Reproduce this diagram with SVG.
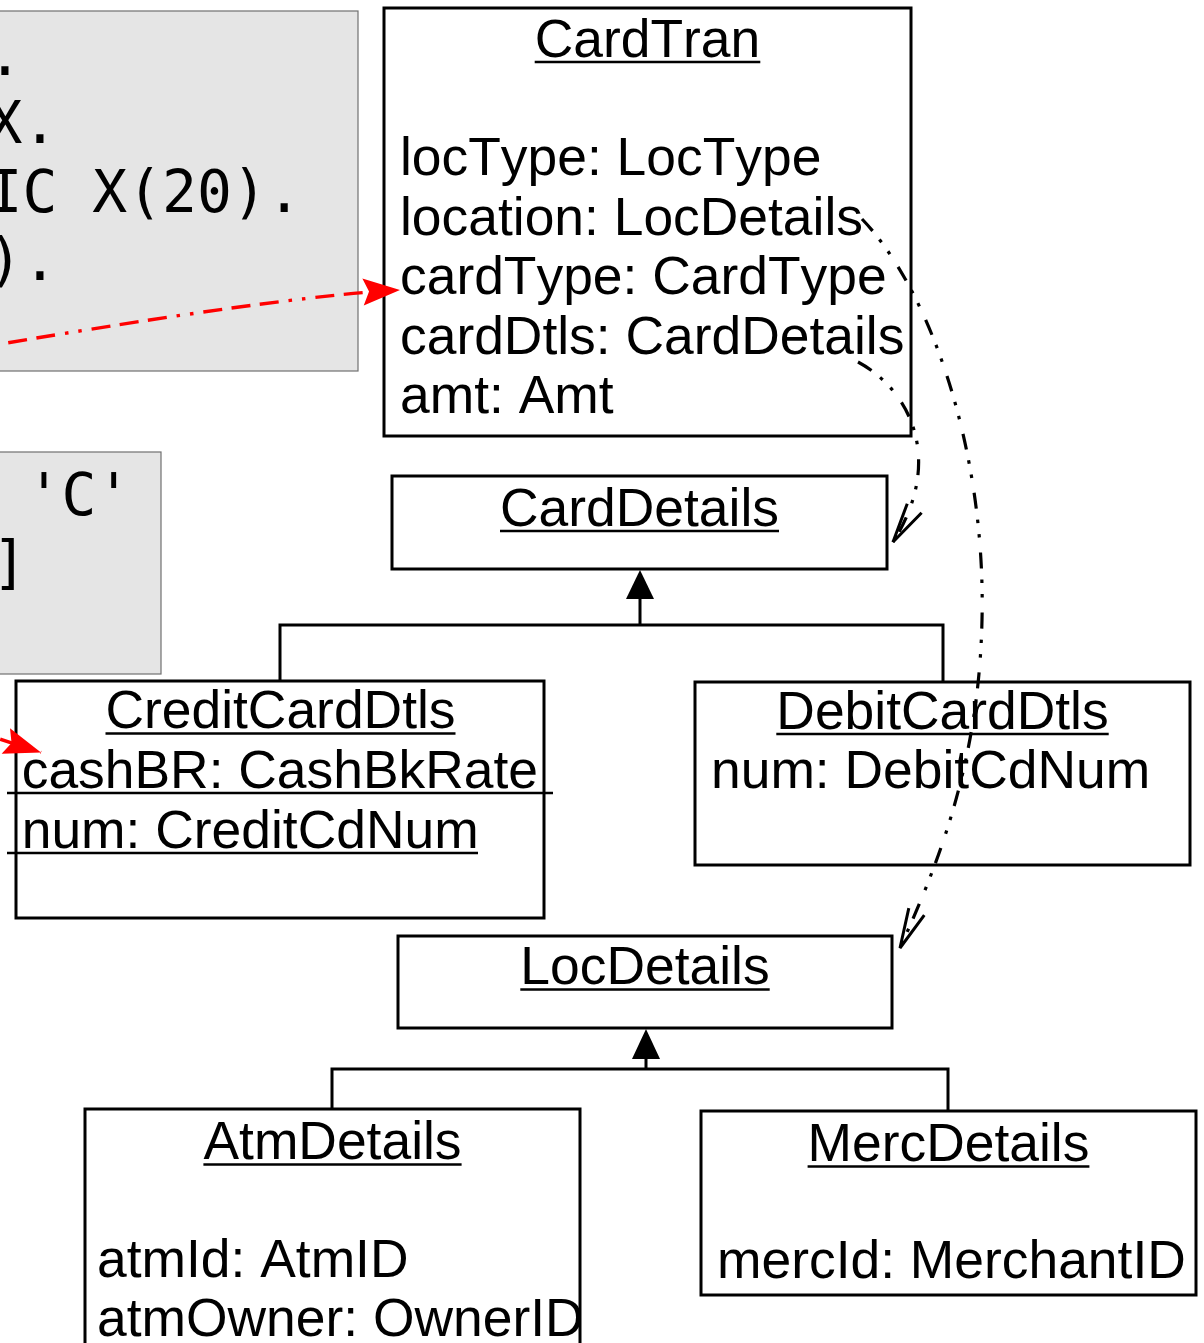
<svg xmlns="http://www.w3.org/2000/svg" width="1204" height="1343" viewBox="0 0 1204 1343">
  <style>
    .box { fill: #ffffff; stroke: #000000; stroke-width: 3; }
    .note { fill: #e5e5e5; stroke: #707070; stroke-width: 1.2; }
    .uml { font-family: "Liberation Sans", Arial, sans-serif; font-size: 53.4px; fill: #000000; font-kerning: none; font-feature-settings: "kern" 0; }
    .code { font-family: "DejaVu Sans Mono", "Liberation Mono", monospace; font-size: 58px; fill: #000000; }
    .mid { text-anchor: middle; }
    .ul { stroke: #000000; stroke-width: 2.6; }
    .gen { fill: none; stroke: #000000; stroke-width: 3; }
    .dep { fill: none; stroke: #000000; stroke-width: 3.2; stroke-dasharray: 16 11 3.5 11 3.5 15; }
    .trace { fill: none; stroke: #ff0000; stroke-width: 3.4; stroke-dasharray: 19 9.5 19 9.5 19 10 3.5 10 3.5 10; }
  </style>
  <defs>
    <marker id="open-arrow" markerUnits="userSpaceOnUse" markerWidth="50" markerHeight="30" viewBox="-45 -15 50 30" refX="0" refY="0" orient="auto">
      <path d="M -40 -8.5 L 0 0 L -40 8.5" fill="none" stroke="#000000" stroke-width="3"/>
    </marker>
    <marker id="red-arrow" markerUnits="userSpaceOnUse" markerWidth="45" markerHeight="34" viewBox="-40 -17 45 34" refX="0" refY="0" orient="auto">
      <path d="M 0 0 L -37 -13.5 L -31 0 L -37 13.5 Z" fill="#ff0000"/>
    </marker>
  </defs>

  <!-- code notes, partly outside the frame -->
  <g id="note-record">
    <rect class="note" x="-10" y="11" width="368" height="360"/>
    <text class="code" x="-12.5" y="74.5">.</text>
    <text class="code" x="-12.5" y="143">X.</text>
    <text class="code" x="-12.5" y="211.5">IC X(20).</text>
    <text class="code" x="-12.5" y="280">).</text>
  </g>
  <g id="note-cardtype">
    <rect class="note" x="-10" y="452" width="171" height="222"/>
    <text class="code" x="26.5" y="515">'C'</text>
    <text class="code" x="-8" y="583">]</text>
  </g>

  <g id="CardTran">
    <rect class="box" x="384" y="8" width="527" height="428"/>
    <text class="uml mid" x="647.5" y="57">CardTran</text>
    <line class="ul" x1="534.7" y1="62" x2="760.3" y2="62"/>
    <text class="uml" x="400" y="175">locType: LocType</text>
    <text class="uml" x="400" y="234.5">location: LocDetails</text>
    <text class="uml" x="400" y="294">cardType: CardType</text>
    <text class="uml" x="400" y="353.5">cardDtls: CardDetails</text>
    <text class="uml" x="400" y="413">amt: Amt</text>
  </g>

  <g id="CardDetails">
    <rect class="box" x="392" y="476" width="495" height="93"/>
    <text class="uml mid" x="639.5" y="526">CardDetails</text>
    <line class="ul" x1="500" y1="531" x2="779" y2="531"/>
  </g>

  <g id="CreditCardDtls">
    <rect class="box" x="16" y="681" width="528" height="237"/>
    <text class="uml mid" x="280.5" y="728">CreditCardDtls</text>
    <line class="ul" x1="105.5" y1="733.5" x2="455.5" y2="733.5"/>
    <text class="uml" x="21.7" y="788">cashBR: CashBkRate</text>
    <line class="ul" x1="7" y1="793" x2="553" y2="793"/>
    <text class="uml" x="21.7" y="848">num: CreditCdNum</text>
    <line class="ul" x1="7" y1="853" x2="478" y2="853"/>
  </g>

  <g id="DebitCardDtls">
    <rect class="box" x="695" y="682" width="495" height="183"/>
    <text class="uml mid" x="942.5" y="729">DebitCardDtls</text>
    <line class="ul" x1="776.3" y1="734" x2="1108.7" y2="734"/>
    <text class="uml" x="711" y="788">num: DebitCdNum</text>
  </g>

  <g id="LocDetails">
    <rect class="box" x="398" y="936" width="494" height="92"/>
    <text class="uml mid" x="645" y="984">LocDetails</text>
    <line class="ul" x1="520.3" y1="989.5" x2="769.7" y2="989.5"/>
  </g>

  <g id="AtmDetails">
    <rect class="box" x="85" y="1109" width="495" height="260"/>
    <text class="uml mid" x="332.5" y="1159">AtmDetails</text>
    <line class="ul" x1="203.4" y1="1164.5" x2="461.6" y2="1164.5"/>
    <text class="uml" x="97" y="1277">atmId: AtmID</text>
    <text class="uml" x="97" y="1336">atmOwner: OwnerID</text>
  </g>

  <g id="MercDetails">
    <rect class="box" x="701" y="1111" width="495" height="184"/>
    <text class="uml mid" x="948.5" y="1161">MercDetails</text>
    <line class="ul" x1="807.6" y1="1166.5" x2="1089.4" y2="1166.5"/>
    <text class="uml" x="717" y="1278">mercId: MerchantID</text>
  </g>

  <g id="connectors">
    <!-- generalisation: CreditCardDtls / DebitCardDtls to CardDetails -->
    <path class="gen" d="M 280 681 V 625 H 943 V 682 M 640 625 V 598"/>
    <path d="M 640 570 L 654 599 L 626 599 Z" fill="#000000"/>
    <!-- generalisation: AtmDetails / MercDetails to LocDetails -->
    <path class="gen" d="M 332 1109 V 1069 H 948 V 1111 M 646 1069 V 1058"/>
    <path d="M 646 1029 L 660 1059 L 632 1059 Z" fill="#000000"/>
    <!-- attribute type references -->
    <path class="dep" d="M 862 219 C 930 290, 986 450, 982 620 C 979 760, 940 860, 900 948" marker-end="url(#open-arrow)"/>
    <path class="dep" d="M 858 362 C 910 390, 945 460, 893 542" marker-end="url(#open-arrow)"/>
    <!-- traces from the code notes -->
    <path class="trace" d="M -20 347.5 Q 283 296 400 290" marker-end="url(#red-arrow)"/>
    <path class="trace" d="M -54 721.5 L 41 752.5" marker-end="url(#red-arrow)"/>
  </g>
</svg>
